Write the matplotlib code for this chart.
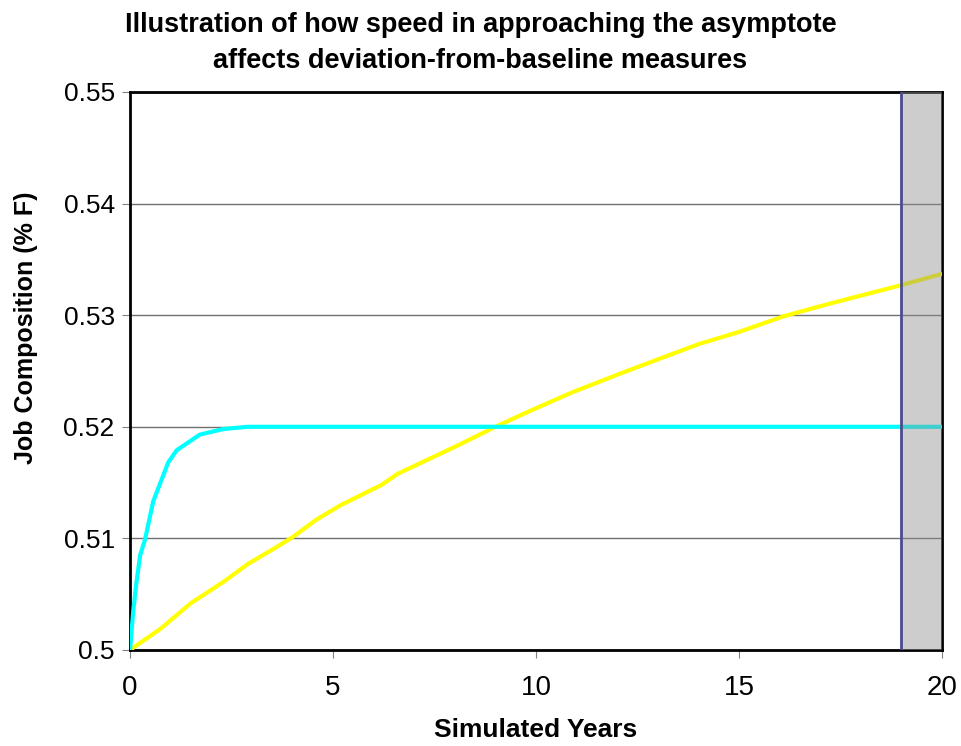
import matplotlib
matplotlib.use("Agg")
import matplotlib.pyplot as plt

# values
fast_years = [0, 0.08, 0.16, 0.25, 0.37, 0.57, 0.94, 1.15, 1.72, 2.3, 2.9, 20]
fast_share = [0.5, 0.5035, 0.5061, 0.5085, 0.5099, 0.5133, 0.5168, 0.5179,
              0.5193, 0.5198, 0.52, 0.52]

slow_years = [0, 0.75, 1.5, 2.3, 2.9, 3.6, 4.0, 4.6, 5.2, 6.2, 6.6, 8.0, 9.0,
              9.9, 10.9, 12.1, 12.9, 14.0, 15.0, 16.1, 17.2, 18.9, 20]
slow_share = [0.5, 0.5019, 0.5042, 0.5061, 0.5077, 0.5092, 0.5101, 0.5117,
              0.5130, 0.5148, 0.5158, 0.5182, 0.5200, 0.5215, 0.5231, 0.5248,
              0.5259, 0.5274, 0.5285, 0.5299, 0.5310, 0.5326, 0.5337]

window = (19, 20)
x_ticks = [0, 5, 10, 15, 20]
y_ticks = [0.5, 0.51, 0.52, 0.53, 0.54, 0.55]
y_labels = ["0.5", "0.51", "0.52", "0.53", "0.54", "0.55"]

plt.rcParams['font.family'] = ['Liberation Sans', 'DejaVu Sans']

fig = plt.figure(figsize=(9.61, 7.46), dpi=100)
ax = fig.add_axes([0.1353, 0.1287, 0.8449, 0.748])

ax.plot(slow_years, slow_share, color='#ffff00', lw=3, zorder=3)
ax.plot(fast_years, fast_share, color='#00ffff', lw=3, zorder=3)

# shaded measurement window
ax.axvspan(window[0], window[1], facecolor='#909090', alpha=0.45,
           edgecolor='none', zorder=4)
ax.axvline(window[0], color='#4b4b8f', lw=2, zorder=5)

ax.set_xlim(0, 20)
ax.set_ylim(0.5, 0.55)
ax.set_xticks(x_ticks)
ax.set_yticks(y_ticks)
ax.set_yticklabels(y_labels)
ax.yaxis.grid(True, color='#707070', lw=1)
ax.set_axisbelow(True)

ax.tick_params(axis='both', direction='out', length=6, color='#808080')
ax.tick_params(axis='y', labelsize=19, pad=5)
ax.tick_params(axis='x', labelsize=20, pad=12)
for side in ['left', 'bottom', 'right', 'top']:
    ax.spines[side].set_color('black')
    ax.spines[side].set_linewidth(2)

ax.set_xlabel("Simulated Years", fontsize=19, fontweight='bold', labelpad=12)
ax.set_ylabel("Job Composition (% F)", fontsize=18, fontweight='bold')
ax.yaxis.set_label_coords(-0.113, 0.577)

fig.suptitle("Illustration of how speed in approaching the asymptote\n"
             "affects deviation-from-baseline measures",
             x=0.5, y=0.984, fontsize=19.5, fontweight='bold', linespacing=1.5)

fig.savefig("out.png", dpi=100)
